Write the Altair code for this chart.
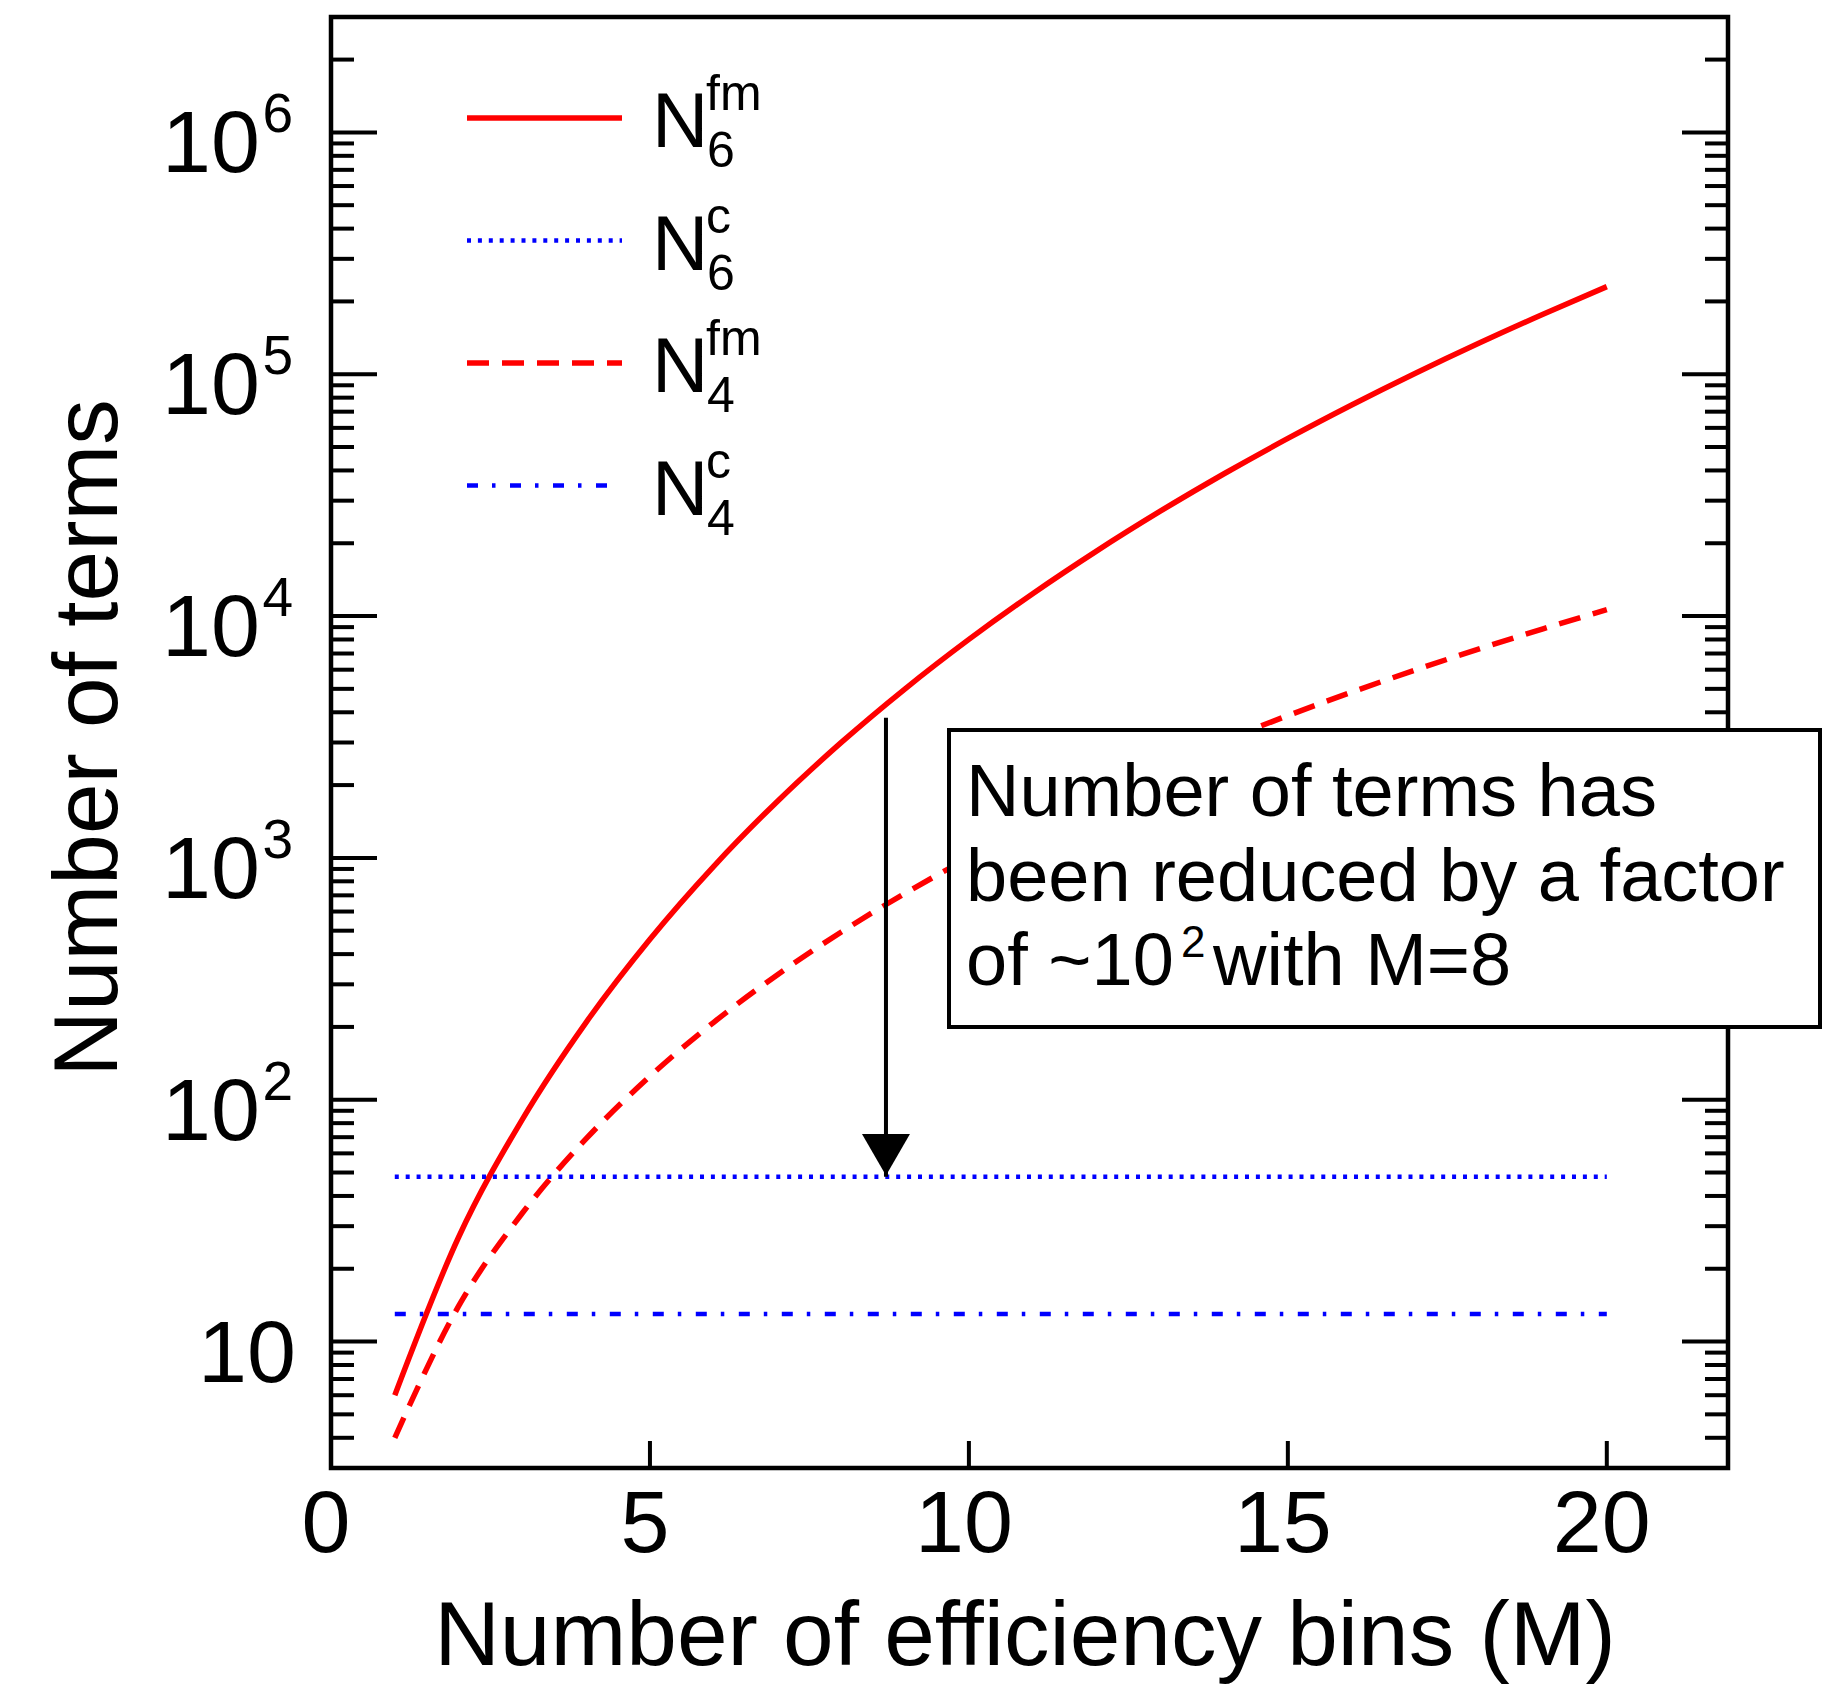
import altair as alt
import pandas as pd

# ---- data -------------------------------------------------------------
# number of efficiency bins M
bins_m = list(range(1, 21))
# number of factorial-moment terms for the 6th and 4th order cumulants
n6_fm = [6, 27, 83, 209, 461, 923, 1715, 3002, 5004, 8007,
         12375, 18563, 27131, 38759, 54263, 74612, 100946, 134595, 177099, 230229]
n4_fm = [4, 14, 34, 69, 125, 209, 329, 494, 714, 1000,
         1364, 1819, 2379, 3059, 3875, 4844, 5984, 7314, 8854, 10625]
# number of terms with the cumulant method (flat in M)
const_range = [1, 20]
n6_c = 48
n4_c = 13

# arrow marking the reduction at M ~ 8.7
arrow_m = 8.7
arrow_top = 3800
arrow_tip = 48

note_lines = ["Number of terms has", "been reduced by a factor"]
note_last = ["of ~10", "2", "with M=8"]

x_ticks = [0, 5, 10, 15, 20]
y_major = [10, 100, 1000, 10000, 100000, 1000000]
y_exponents = ["", "2", "3", "4", "5", "6"]
y_minor = [m * 10 ** k for k in range(0, 7) for m in range(2, 10) if 3 <= m * 10 ** k <= 3e6]

legend_sup = ["fm", "c", "fm", "c"]
legend_sub = ["6", "6", "4", "4"]

# ---- styling ----------------------------------------------------------
W, H = 1397, 1451
FONT = "Liberation Sans"
RED = "#ff0000"
BLUE = "#0000ff"
SOLID = None
DOTTED = [4, 6.9]
DASHED = [22, 13]
DASHDOT = [11, 14, 3.5, 14.5]
RED_W = 5.5
BLUE_W = 4.5

xs = alt.Scale(domain=[0, 21.9], nice=False, zero=False)
ys = alt.Scale(type="log", domain=[3, 3e6], nice=False)

one = pd.DataFrame({"_": [0]})


def xq(field):
    return alt.X(field, type="quantitative", scale=xs, axis=None)


def yq(field):
    return alt.Y(field, type="quantitative", scale=ys, axis=None)


def dash_kw(dash):
    return {} if dash is None else {"strokeDash": dash}


def label(text, x, y, size, align="left", **kw):
    return alt.Chart(one).mark_text(text=text, font=FONT, fontSize=size, align=align,
                                    baseline="alphabetic", color="black", **kw).encode(
        x=alt.value(x), y=alt.value(y))


layers = []

# ---- inward tick marks (left, right, bottom) ---------------------------
maj_df = pd.DataFrame({"v": y_major})
min_df = pd.DataFrame({"v": y_minor})
for df, ln in ((maj_df, 46), (min_df, 23)):
    layers.append(alt.Chart(df).mark_rule(color="black", strokeWidth=4).encode(
        y=yq("v"), x=alt.value(0), x2=alt.value(ln)))
    layers.append(alt.Chart(df).mark_rule(color="black", strokeWidth=4).encode(
        y=yq("v"), x=alt.value(W - ln), x2=alt.value(W)))

xt_df = pd.DataFrame({"v": x_ticks})
layers.append(alt.Chart(xt_df).mark_rule(color="black", strokeWidth=4).encode(
    x=xq("v"), y=alt.value(H), y2=alt.value(H - 27)))

# ---- frame -------------------------------------------------------------
layers.append(alt.Chart(one).mark_rect(filled=False, stroke="black", strokeWidth=4.5).encode(
    x=alt.value(0), x2=alt.value(W), y=alt.value(0), y2=alt.value(H)))

# ---- curves ------------------------------------------------------------
fm = pd.DataFrame({"M": bins_m, "n6": n6_fm, "n4": n4_fm})
layers.append(alt.Chart(fm).mark_line(color=RED, strokeWidth=RED_W, interpolate="monotone").encode(
    x=xq("M"), y=yq("n6")))
layers.append(alt.Chart(fm).mark_line(color=RED, strokeWidth=RED_W, interpolate="monotone",
                                      strokeDash=DASHED).encode(x=xq("M"), y=yq("n4")))

cdf = pd.DataFrame({"m0": [const_range[0]], "m1": [const_range[1]], "n6": [n6_c], "n4": [n4_c]})
layers.append(alt.Chart(cdf).mark_rule(color=BLUE, strokeWidth=BLUE_W, strokeDash=DOTTED).encode(
    x=xq("m0"), x2="m1:Q", y=yq("n6")))
layers.append(alt.Chart(cdf).mark_rule(color=BLUE, strokeWidth=BLUE_W, strokeDash=DASHDOT).encode(
    x=xq("m0"), x2="m1:Q", y=yq("n4")))

# ---- arrow -------------------------------------------------------------
adf = pd.DataFrame({"m": [arrow_m], "top": [arrow_top], "tip": [arrow_tip]})
layers.append(alt.Chart(adf).mark_rule(color="black", strokeWidth=4).encode(
    x=xq("m"), y=yq("top"), y2="tip:Q"))
layers.append(alt.Chart(adf).mark_point(shape="triangle-down", filled=True, size=2300,
                                        color="black", opacity=1, yOffset=-22).encode(
    x=xq("m"), y=yq("tip")))

# ---- annotation box ----------------------------------------------------
layers.append(alt.Chart(one).mark_rect(fill="white", stroke="black", strokeWidth=4).encode(
    x=alt.value(618), x2=alt.value(1489), y=alt.value(713), y2=alt.value(1010)))
for i, line in enumerate(note_lines):
    layers.append(label(line, 635, 799 + i * 84.5, 74))
layers.append(label(note_last[0], 635, 968, 74))
layers.append(label(note_last[1], 850, 940, 44))
layers.append(label(note_last[2], 882, 968, 74))

# ---- legend ------------------------------------------------------------
legend_styles = [(RED, SOLID, 291), (BLUE, DOTTED, 291), (RED, DASHED, 291), (BLUE, DASHDOT, 278)]
for i, (sup, sub) in enumerate(zip(legend_sup, legend_sub)):
    color, dash, x_end = legend_styles[i]
    ly = 101 + i * 122.5
    width = RED_W if color == RED else BLUE_W
    layers.append(alt.Chart(one).mark_rule(color=color, strokeWidth=width, **dash_kw(dash)).encode(
        x=alt.value(136), x2=alt.value(x_end), y=alt.value(ly)))
    layers.append(label("N", 321, ly + 29, 78))
    layers.append(label(sup, 375, ly - 8, 50))
    layers.append(label(sub, 376, ly + 49, 50))

# ---- tick labels ---------------------------------------------------------
ylab = pd.DataFrame({"v": y_major, "exp": y_exponents})
layers.append(alt.Chart(ylab).transform_filter("datum.exp != ''").mark_text(
    text="10", font=FONT, fontSize=88, align="right", baseline="alphabetic", dy=40,
    color="black").encode(y=yq("v"), x=alt.value(-71)))
layers.append(alt.Chart(ylab).transform_filter("datum.exp != ''").mark_text(
    font=FONT, fontSize=55, align="left", baseline="alphabetic", dy=0,
    color="black").encode(y=yq("v"), x=alt.value(-68.5), text="exp:N"))
layers.append(alt.Chart(ylab).transform_filter("datum.exp == ''").mark_text(
    text="10", font=FONT, fontSize=88, align="right", baseline="alphabetic", dy=40,
    color="black").encode(y=yq("v"), x=alt.value(-35)))

layers.append(alt.Chart(xt_df).mark_text(font=FONT, fontSize=88, align="center",
                                         baseline="alphabetic", dx=-5, color="black").encode(
    x=xq("v"), y=alt.value(1535), text=alt.Text("v:Q", format="d")))

# ---- axis titles -------------------------------------------------------
layers.append(label("Number of efficiency bins (M)", 694, 1648, 91, align="center"))
layers.append(label("Number of terms", -214.5, 721, 91, align="center", angle=270))

chart = alt.layer(*layers).properties(
    width=W,
    height=H,
    autosize=alt.AutoSizeParams(type="none"),
    padding={"left": 331, "top": 17, "right": 1830 - 331 - W, "bottom": 1687 - 17 - H},
    background="white",
).configure_view(strokeWidth=0)

chart.save("out.html", embed_options={"renderer": "svg", "actions": False})
